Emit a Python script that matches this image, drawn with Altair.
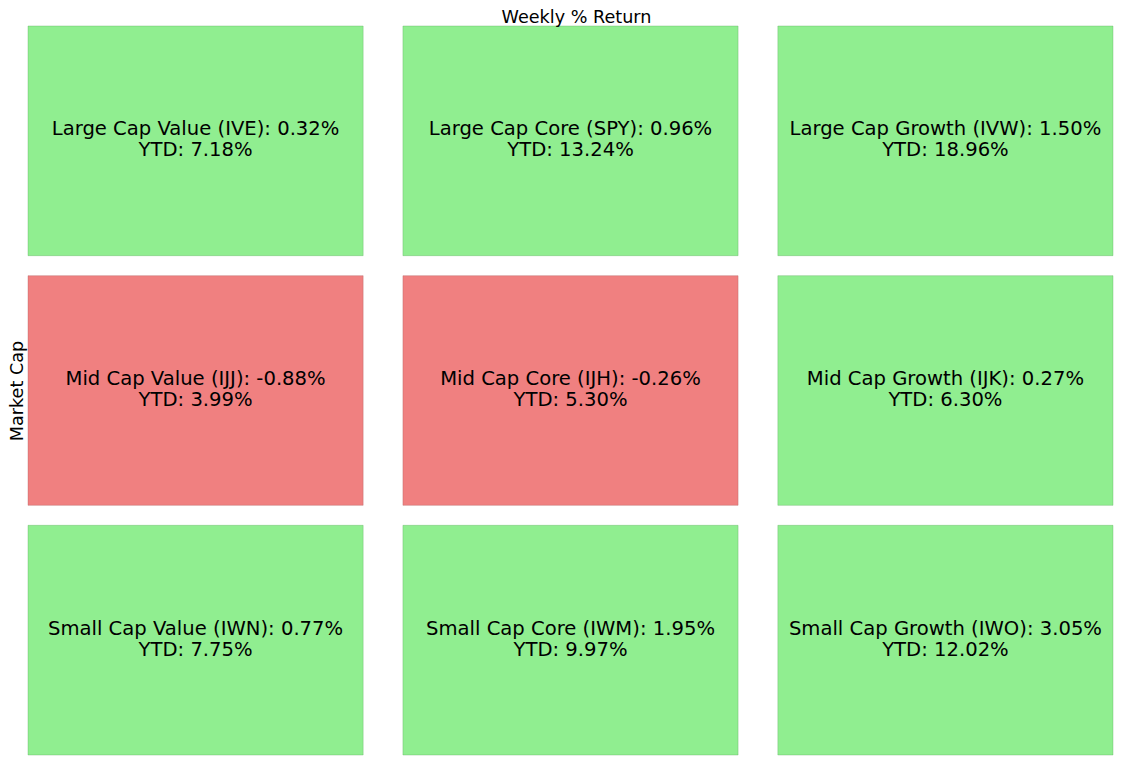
import altair as alt
import pandas as pd

rows = ["Large Cap", "Mid Cap", "Small Cap"]
cols = ["Value", "Core", "Growth"]
tickers = [["IVE", "SPY", "IVW"], ["IJJ", "IJH", "IJK"], ["IWN", "IWM", "IWO"]]
weekly = [[0.32, 0.96, 1.50], [-0.88, -0.26, 0.27], [0.77, 1.95, 3.05]]
ytd = [[7.18, 13.24, 18.96], [3.99, 5.30, 6.30], [7.75, 9.97, 12.02]]

records = []
for i, r in enumerate(rows):
    for j, c in enumerate(cols):
        w = weekly[i][j]
        y = ytd[i][j]
        records.append({
            "row": r,
            "col": c,
            "weekly": w,
            "ytd": y,
            "line1": f"{r} {c} ({tickers[i][j]}): {w:.2f}%",
            "line2": f"YTD: {y:.2f}%",
        })
df = pd.DataFrame(records)

FONT = "DejaVu Sans"

x_enc = alt.X("col:N", sort=cols, axis=None,
              scale=alt.Scale(paddingInner=40 / 377, paddingOuter=0))
y_enc = alt.Y("row:N", sort=rows,
              scale=alt.Scale(paddingInner=20 / 250, paddingOuter=0),
              axis=alt.Axis(labels=False, ticks=False, domain=False, grid=False,
                            title="Market Cap", titleFontSize=17.6,
                            titleFont=FONT, titleFontWeight="normal",
                            titleColor="black", titlePadding=2))

base = alt.Chart(df)

rects = base.mark_rect(strokeWidth=1, strokeOpacity=0.35).encode(
    x=x_enc,
    y=y_enc,
    color=alt.condition(alt.datum.weekly < 0, alt.value("#F08080"), alt.value("#90EE90")),
    stroke=alt.condition(alt.datum.weekly < 0, alt.value("#b05a5a"), alt.value("#5aa85a")),
)

texts = base.transform_calculate(
    label="[datum.line1, datum.line2]"
).mark_text(font=FONT, fontSize=19.6, color="black", align="center",
            baseline="middle", lineHeight=21, dy=-11.5).encode(
    x=x_enc,
    y=y_enc,
    text="label:N",
)

chart = (rects + texts).properties(
    width=1106,
    height=748,
    padding=0,
    autosize=alt.AutoSizeParams(type="fit", contains="padding"),
    title=alt.TitleParams("Weekly % Return", font=FONT, fontSize=17.6,
                          fontWeight="normal", color="black",
                          baseline="alphabetic", offset=-15, dx=6),
).configure(
    background="white",
    view=alt.ViewConfig(stroke="transparent", strokeWidth=0),
)

chart.save("out.html", embed_options={"renderer": "svg", "actions": False})
